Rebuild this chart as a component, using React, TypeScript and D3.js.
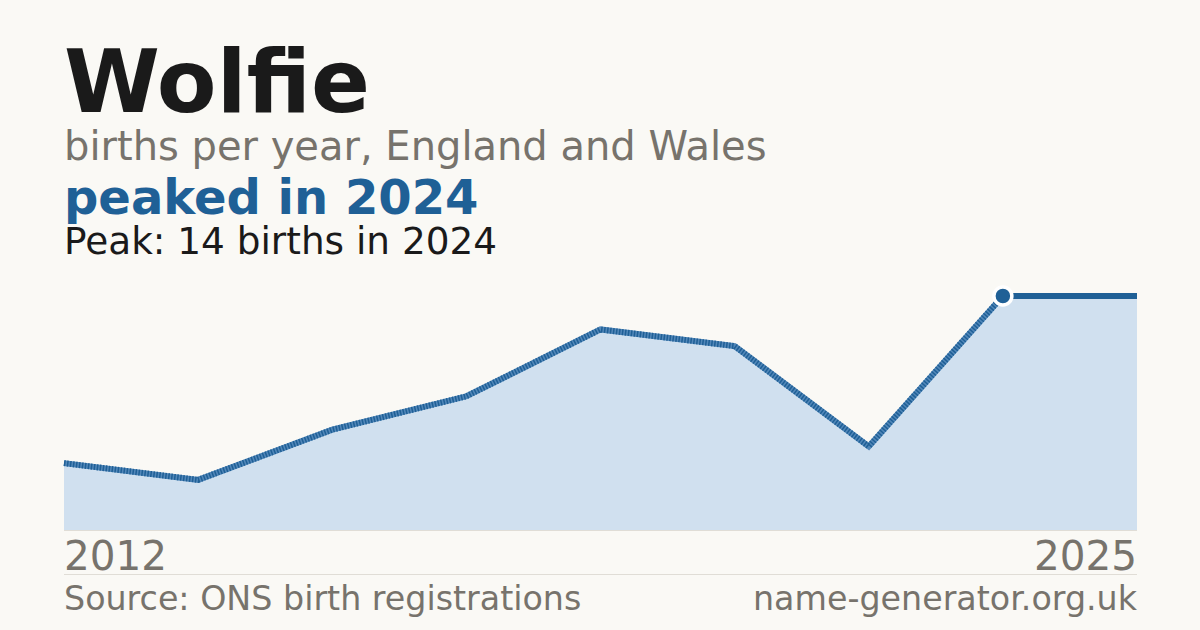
import React from "react";
import * as d3 from "d3";

const name = "Wolfie";
const subtitle = "births per year, England and Wales";
const headline = "peaked in 2024";
const peakNote = "Peak: 14 births in 2024";
const sourceText = "Source: ONS birth registrations";
const siteText = "name-generator.org.uk";

const pointLabels = ["2012", "p2", "p3", "p4", "p5", "p6", "p7", "2024", "2025"];
const births = [4, 3, 6, 8, 12, 11, 5, 14, 14];
const firstYearLabel = "2012";
const lastYearLabel = "2025";
const peakIndex = 7;

const W = 1200;
const H = 630;
const BG = "#faf9f5";
const BLUE = "#1f6096";
const GRAY = "#77736c";
const DARK = "#1a1a1a";
const FONT = "'DejaVu Sans', sans-serif";

export default function App() {
  const x = d3.scalePoint<number>().domain(d3.range(births.length)).range([64, 1137]);
  const y = d3.scaleLinear().domain([0, 14]).range([530, 296]);

  const area = d3
    .area<number>()
    .x((_, i) => x(i)!)
    .y0(y(0))
    .y1((d) => y(d));
  const line = d3
    .line<number>()
    .x((_, i) => x(i)!)
    .y((d) => y(d));

  const mainSeg = births.slice(0, peakIndex + 1);
  const tailSeg = births.slice(peakIndex);
  const tailLine = d3
    .line<number>()
    .x((_, i) => x(i + peakIndex)!)
    .y((d) => y(d));

  return (
    <svg
      width={W}
      height={H}
      style={{ position: "absolute", left: 0, top: 0, display: "block" }}
    >
      <rect width={W} height={H} fill={BG} />
      <text x={64} y={112} fontFamily={FONT} fontWeight="bold" fontSize={87} fill={DARK}>
        {name}
      </text>
      <text x={64} y={160} fontFamily={FONT} fontSize={40} fill={GRAY}>
        {subtitle}
      </text>
      <text x={64} y={214} fontFamily={FONT} fontWeight="bold" fontSize={48} fill={BLUE}>
        {headline}
      </text>
      <text x={64} y={254} fontFamily={FONT} fontSize={37.4} fill={DARK}>
        {peakNote}
      </text>

      <path d={area(births) ?? ""} fill="#d0e0ef" />
      <line x1={64} x2={1137} y1={530.5} y2={530.5} stroke="#e0ddd6" strokeWidth={1} />
      <path d={line(mainSeg) ?? ""} fill="none" stroke="#5287b9" strokeWidth={6} strokeLinejoin="miter" />
      <path
        d={line(mainSeg) ?? ""}
        fill="none"
        stroke={BLUE}
        strokeWidth={6}
        strokeDasharray="1.5 1.5"
        strokeLinejoin="miter"
      />
      <path d={tailLine(tailSeg) ?? ""} fill="none" stroke={BLUE} strokeWidth={6} />
      <circle cx={x(peakIndex)} cy={y(births[peakIndex])} r={9} fill={BLUE} stroke="#ffffff" strokeWidth={3.5} />

      <text x={64} y={570} fontFamily={FONT} fontSize={40.5} fill={GRAY}>
        {firstYearLabel}
      </text>
      <text x={1137} y={570} textAnchor="end" fontFamily={FONT} fontSize={40.5} fill={GRAY}>
        {lastYearLabel}
      </text>
      <line x1={64} x2={1137} y1={574.5} y2={574.5} stroke="#e0ddd6" strokeWidth={1} />
      <text x={64} y={610} fontFamily={FONT} fontSize={33.3} fill={GRAY}>
        {sourceText}
      </text>
      <text x={1137} y={610} textAnchor="end" fontFamily={FONT} fontSize={33.3} fill={GRAY}>
        {siteText}
      </text>
    </svg>
  );
}
